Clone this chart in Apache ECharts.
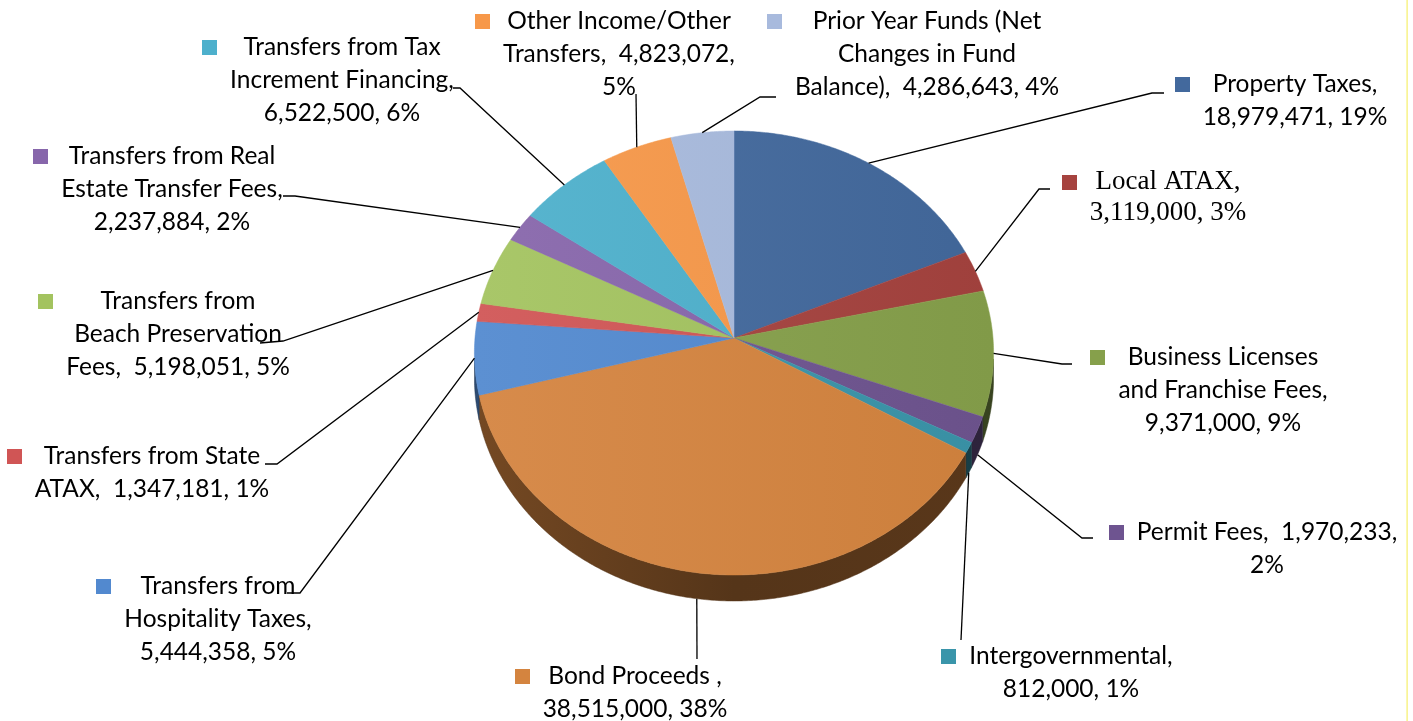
<!DOCTYPE html>
<html>
<head>
<meta charset="utf-8">
<script src="https://cdn.jsdelivr.net/npm/echarts@6/dist/echarts.min.js"></script>
<style>
  html, body { margin: 0; padding: 0; background: #ffffff; }
  #chart { width: 1413px; height: 721px; }
</style>
</head>
<body>
<div id="chart"></div>
<script>
// Revenue sources, clockwise from 12 o'clock
const categories = [
  'Property Taxes', 'Local ATAX', 'Business Licenses and Franchise Fees', 'Permit Fees',
  'Intergovernmental', 'Bond Proceeds', 'Transfers from Hospitality Taxes',
  'Transfers from State ATAX', 'Transfers from Beach Preservation Fees',
  'Transfers from Real Estate Transfer Fees', 'Transfers from Tax Increment Financing',
  'Other Income/Other Transfers', 'Prior Year Funds (Net Changes in Fund Balance)'
];
const amounts = [
  18979471, 3119000, 9371000, 1970233, 812000, 38515000, 5444358,
  1347181, 5198051, 2237884, 6522500, 4823072, 4286643
];
// Label text with line breaks; {v} = amount, {p} = percent
const labelTemplates = [
  'Property Taxes,\n{v}, {p}',
  'Local ATAX,\n{v}, {p}',
  'Business Licenses\nand Franchise Fees,\n{v}, {p}',
  'Permit Fees,  {v},\n{p}',
  'Intergovernmental,\n{v}, {p}',
  'Bond Proceeds ,\n{v}, {p}',
  'Transfers from\nHospitality Taxes,\n{v}, {p}',
  'Transfers from State\nATAX,  {v}, {p}',
  'Transfers from\nBeach Preservation\nFees,  {v}, {p}',
  'Transfers from Real\nEstate Transfer Fees,\n{v}, {p}',
  'Transfers from Tax\nIncrement Financing,\n{v}, {p}',
  'Other Income/Other\nTransfers,  {v},\n{p}',
  'Prior Year Funds (Net\nChanges in Fund\nBalance),  {v}, {p}'
];
const colors = [
  '#43699d', '#a6433f', '#86a04b', '#6e5490', '#3a95aa', '#d4843f', '#5289cf',
  '#d05555', '#a3c35f', '#8766ab', '#4db0cc', '#f79849', '#a8badd'
];

// Label placement: centre of text block, first-line centre y, leader bends (from slice outward)
const labelLayout = [
  { x: 1295, y: 84,  bend: [[1152, 93], [1164, 93]] },
  { x: 1168, y: 182, bend: [[1039, 189], [1050, 189]], serif: true },
  { x: 1223, y: 357, bend: [[1062, 364], [1072, 364]] },
  { x: 1267, y: 532, bend: [[1082, 538], [1093, 538]] },
  { x: 1071, y: 656, bend: [[961, 640]] },
  { x: 635,  y: 676, bend: [[697, 659]] },
  { x: 218,  y: 586, bend: [[300, 593], [287, 593]] },
  { x: 152,  y: 456, bend: [[277, 464], [265, 464]] },
  { x: 178,  y: 301, bend: [[283, 341], [260, 343]] },
  { x: 172,  y: 156, bend: [[295, 196], [283, 196]] },
  { x: 342,  y: 47,  bend: [[460, 88], [453, 88]] },
  { x: 619,  y: 21,  bend: [[636, 94]] },
  { x: 927,  y: 21,  bend: [[760, 97], [776, 97]] }
];

// Pie geometry: apex, half-axes, perspective factor and wall height
const geo = { cx: 734, cy: 338, rx: 259, ry: 221, k: 0.0676, wall: 24.2 };

const SANS = 'Lato, "Open Sans", sans-serif';
const SERIF = '"Liberation Serif", "Times New Roman", serif';
const FONT_SIZE = 24.5, SERIF_SIZE = 27;

const total = amounts.reduce((a, b) => a + b, 0);
const cumulative = amounts.reduce((acc, v, i) => { acc.push((acc[i] || 0) + v); return acc; }, [0]);

// Whole-number percents that sum to 100 (largest remainder)
const percents = (() => {
  const raw = amounts.map(v => v / total * 100);
  const out = raw.map(Math.floor);
  let left = 100 - out.reduce((a, b) => a + b, 0);
  raw.map((r, i) => [r - Math.floor(r), i]).sort((a, b) => b[0] - a[0])
    .slice(0, left).forEach(([, i]) => out[i]++);
  return out;
})();

const fmt = n => n.toLocaleString('en-US');

function proj(theta) {
  const X = Math.sin(theta), Y = -Math.cos(theta);
  const d = 1 - geo.k * Y;
  return { x: geo.cx + geo.rx * X / d, y: geo.cy + geo.ry * Y / d, h: geo.wall / d };
}

function shade(hex, f) {
  const n = parseInt(hex.slice(1), 16);
  let r = (n >> 16) & 255, g = (n >> 8) & 255, b = n & 255;
  const t = c => f >= 0 ? Math.round(c + (255 - c) * f) : Math.round(c * (1 + f));
  return 'rgb(' + t(r) + ',' + t(g) + ',' + t(b) + ')';
}

function sliceAngles(i, v) {
  const a0 = cumulative[i] / total * Math.PI * 2;
  return [a0, a0 + v / total * Math.PI * 2];
}

function arc(a0, a1) {
  const pts = [];
  const n = Math.max(2, Math.ceil((a1 - a0) / (Math.PI / 360)));
  for (let j = 0; j <= n; j++) pts.push(proj(a0 + (a1 - a0) * j / n));
  return pts;
}

function renderTop(params, api) {
  const i = params.dataIndex;
  const [a0, a1] = sliceAngles(i, api.value(0));
  const pts = [[geo.cx, geo.cy]].concat(arc(a0, a1).map(p => [p.x, p.y]));
  const base = colors[i];
  return {
    type: 'polygon',
    shape: { points: pts },
    style: {
      fill: {
        type: 'linear', x: geo.cx - geo.rx, y: 0, x2: geo.cx + geo.rx, y2: 0, global: true,
        colorStops: [{ offset: 0, color: shade(base, 0.06) }, { offset: 1, color: shade(base, -0.04) }]
      },
      stroke: base, lineWidth: 0.5
    }
  };
}

function renderSide(params, api) {
  const i = params.dataIndex;
  const [a0, a1] = sliceAngles(i, api.value(0));
  const s0 = Math.max(a0, Math.PI * 0.53), s1 = Math.min(a1, Math.PI * 1.47);
  if (s1 <= s0) return { type: 'group', children: [] };
  const top = arc(s0, s1);
  const pts = top.map(p => [p.x, p.y]).concat(top.slice().reverse().map(p => [p.x, p.y + p.h]));
  const base = colors[i];
  return {
    type: 'polygon',
    shape: { points: pts },
    style: {
      fill: {
        type: 'linear', x: geo.cx - geo.rx, y: 0, x2: geo.cx + geo.rx, y2: 0, global: true,
        colorStops: [
          { offset: 0, color: shade(base, -0.45) },
          { offset: 0.5, color: shade(base, -0.6) },
          { offset: 1, color: shade(base, -0.58) }
        ]
      },
      stroke: shade(base, -0.6), lineWidth: 0.5
    }
  };
}

const measureCtx = document.createElement('canvas').getContext('2d');

function renderLabel(params, api) {
  const i = params.dataIndex;
  const v = api.value(0);
  const lay = labelLayout[i];
  const [a0, a1] = sliceAngles(i, v);
  const mid = (a0 + a1) / 2;
  const p = proj(mid);
  const anchor = [p.x, (mid > Math.PI * 0.56 && mid < Math.PI * 1.44) ? p.y + p.h : p.y];
  const text = labelTemplates[i].replace('{v}', fmt(v)).replace('{p}', percents[i] + '%');
  const size = lay.serif ? SERIF_SIZE : FONT_SIZE;
  const family = lay.serif ? SERIF : SANS;
  const lineH = lay.serif ? 31 : 33;
  const font = size + 'px ' + family;
  measureCtx.font = font;
  const maxW = Math.max.apply(null, text.split('\n').map(s => measureCtx.measureText(s).width));
  const keyX = lay.x - maxW / 2 - 13 - 15;
  return {
    type: 'group',
    children: [
      {
        type: 'polyline',
        shape: { points: [anchor].concat(lay.bend) },
        style: { stroke: '#000000', lineWidth: 1.3, fill: null }
      },
      {
        type: 'rect',
        shape: { x: Math.round(keyX), y: Math.round(lay.y - 7.5), width: 15, height: 15 },
        style: { fill: colors[i] }
      },
      {
        type: 'text',
        style: {
          text: text, x: lay.x, y: lay.y - lineH / 2,
          font: font, fill: '#000000',
          align: 'center', verticalAlign: 'top',
          textAlign: 'center', textVerticalAlign: 'top',
          lineHeight: lineH
        }
      }
    ]
  };
}

const data = amounts.map((v, i) => ({ name: categories[i], value: v }));

const chart = echarts.init(document.getElementById('chart'), null, { renderer: 'canvas' });
chart.setOption({
  backgroundColor: '#ffffff',
  animation: false,
  graphic: [{
    type: 'rect', z: 10,
    shape: { x: 1406.5, y: 0, width: 1.2, height: 721 },
    style: { fill: '#f6f06a' }
  }],
  series: [
    { type: 'custom', name: 'wall', coordinateSystem: 'none', data: data, renderItem: renderSide, z: 1, silent: true },
    { type: 'custom', name: 'revenue', coordinateSystem: 'none', data: data, renderItem: renderTop, z: 2 },
    { type: 'custom', name: 'labels', coordinateSystem: 'none', data: data, renderItem: renderLabel, z: 3, silent: true }
  ]
});
</script>
</body>
</html>
